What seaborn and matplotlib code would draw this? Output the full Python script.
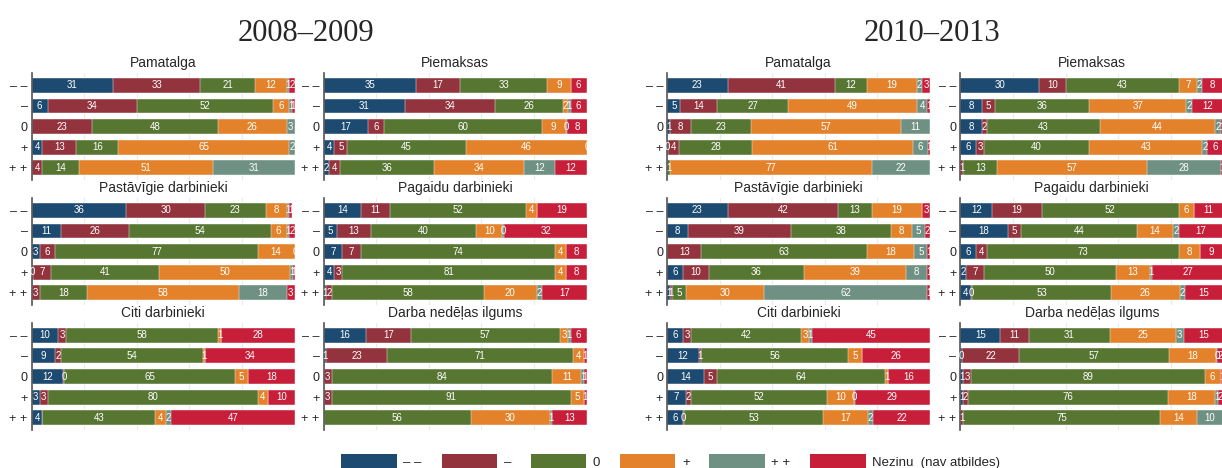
import numpy as np
import pandas as pd
import matplotlib
matplotlib.use('Agg')
import matplotlib.pyplot as plt
from matplotlib.patches import Patch
import seaborn as sbn

# answer categories (rows of every panel)
cats = ['– –', '–', '0', '+', '+ +']
legend_labels = ['– –', '–', '0', '+', '+ +', 'Nezinu  (nav atbildes)']
colors = ['#1c4a70', '#93333d', '#567632', '#e3822a', '#6f9183', '#c71f3a']

periods = ['2008–2009', '2010–2013']
titles = ['Pamatalga', 'Piemaksas', 'Pastāvīgie darbinieki', 'Pagaidu darbinieki',
          'Citi darbinieki', 'Darba nedēļas ilgums']

# shares in % per row: [– –, –, 0, +, + +, Nezinu]
pamatalga_0809 = [[31, 33, 21, 12, 1, 2], [6, 34, 52, 6, 1, 1], [0, 23, 48, 26, 3, 0],
                  [4, 13, 16, 65, 2, 0], [0, 4, 14, 51, 31, 0]]
piemaksas_0809 = [[35, 17, 33, 9, 0, 6], [31, 34, 26, 2, 1, 6], [17, 6, 60, 9, 0.4, 8],
                  [4, 5, 45, 46, 0.4, 0.6], [2, 4, 36, 34, 12, 12]]
pastav_0809 = [[36, 30, 23, 8, 1, 1], [11, 26, 54, 6, 1, 2], [3, 6, 77, 14, 0, 0.4],
               [0.4, 7, 41, 50, 1, 0.6], [0, 3, 18, 58, 18, 3]]
pagaidu_0809 = [[14, 11, 52, 4, 0, 19], [5, 13, 40, 10, 0.4, 32], [7, 7, 74, 4, 0, 8],
                [4, 3, 81, 4, 0, 8], [1, 2, 58, 20, 2, 17]]
citi_0809 = [[10, 3, 58, 1, 0, 28], [9, 2, 54, 1, 0, 34], [12, 0.4, 65, 5, 0, 17.6],
             [3, 3, 80, 4, 0, 10], [4, 0, 43, 4, 2, 47]]
nedelas_0809 = [[16, 17, 57, 3, 1, 6], [1, 23, 71, 4, 0, 1], [0, 3, 84, 11, 1, 1],
                [0, 3, 91, 5, 0, 1], [0, 0, 56, 30, 1, 13]]

pamatalga_1013 = [[23, 41, 12, 19, 2, 3], [5, 14, 27, 49, 4, 1], [1, 8, 23, 57, 11, 0],
                  [0.4, 4, 28, 61, 6, 0.6], [0, 0, 1, 77, 22, 0]]
piemaksas_1013 = [[30, 10, 43, 7, 2, 8], [8, 5, 36, 37, 2, 12], [8, 2, 43, 44, 2, 1],
                  [6, 3, 40, 43, 2, 6], [0, 1, 13, 57, 28, 1]]
pastav_1013 = [[23, 42, 13, 19, 0, 3], [8, 39, 38, 8, 5, 2], [0, 13, 63, 18, 5, 1],
               [6, 10, 36, 39, 8, 1], [1, 1, 5, 30, 62, 1]]
pagaidu_1013 = [[12, 19, 52, 6, 0, 11], [18, 5, 44, 14, 2, 17], [6, 4, 73, 8, 0, 9],
                [2, 7, 50, 13, 1, 27], [4, 0.4, 53, 26, 2, 14.6]]
citi_1013 = [[6, 3, 42, 3, 1, 45], [12, 1, 56, 5, 0, 26], [14, 5, 64, 1, 0, 16],
             [7, 2, 52, 10, 0.4, 28.6], [6, 0.4, 53, 17, 2, 21.6]]
nedelas_1013 = [[15, 11, 31, 25, 3, 15], [0.4, 22, 57, 18, 0.4, 2.2], [1, 3, 89, 6, 0, 1],
                [1, 2, 76, 18, 1, 2], [0, 1, 75, 14, 10, 0]]

panels = [
    [pamatalga_0809, piemaksas_0809, pastav_0809, pagaidu_0809, citi_0809, nedelas_0809],
    [pamatalga_1013, piemaksas_1013, pastav_1013, pagaidu_1013, citi_1013, nedelas_1013],
]

sbn.set_theme(style='white')
plt.rcParams['font.family'] = ['Liberation Sans', 'DejaVu Sans']

fig = plt.figure(figsize=(12.22, 4.68), dpi=100)

lefts = [[0.026, 0.265], [0.546, 0.786]]
width = 0.215
bottoms = [0.615, 0.348, 0.081]
height = 0.229


def stacked(ax, rows, title):
    data = np.array(rows, dtype=float)
    cum = data.cumsum(axis=1)
    # draw the layers from the longest cumulative bar to the shortest
    for k in range(data.shape[1] - 1, -1, -1):
        df = pd.DataFrame({'cat': cats, 'val': cum[:, k]})
        sbn.barplot(data=df, x='val', y='cat', orient='h', color=colors[k],
                    saturation=1, width=0.72, edgecolor='white', linewidth=0.3, ax=ax)
    for i in range(data.shape[0]):
        for k in range(data.shape[1]):
            v = data[i, k]
            if v <= 0:
                continue
            ax.text(cum[i, k] - v / 2, i, f'{round(v):d}', ha='center', va='center',
                    color='white', fontsize=7)
    ax.set_xlim(0, 100)
    ax.set_ylim(4.6, -0.6)
    ax.set_xticks([0, 20, 40, 60, 80, 100])
    ax.set_xticklabels([])
    ax.tick_params(axis='x', length=0)
    ax.tick_params(axis='y', length=0, labelsize=9, pad=3)
    ax.grid(axis='x', color='#e4ecef', linewidth=0.8)
    ax.set_axisbelow(True)
    ax.set_xlabel('')
    ax.set_ylabel('')
    for s in ['top', 'right', 'bottom']:
        ax.spines[s].set_visible(False)
    ax.spines['left'].set_color('#555555')
    ax.spines['left'].set_linewidth(1.2)
    ax.set_title(title, fontsize=10, pad=4)


for g in range(2):
    for p in range(6):
        r, c = divmod(p, 2)
        ax = fig.add_axes([lefts[g][c], bottoms[r], width, height])
        stacked(ax, panels[g][p], titles[p])

fig.text(0.25, 0.928, periods[0], ha='center', va='center', fontsize=22,
         family='Liberation Serif')
fig.text(0.763, 0.928, periods[1], ha='center', va='center', fontsize=22,
         family='Liberation Serif')

handles = [Patch(facecolor=c, edgecolor='none') for c in colors]
fig.legend(handles, legend_labels, loc='lower center', bbox_to_anchor=(0.549, -0.022),
           ncol=6, frameon=False, fontsize=9.5, handlelength=4.2, handleheight=1.3,
           columnspacing=1.5, handletextpad=0.5, borderpad=0.2)

fig.savefig('out.png', dpi=100)
